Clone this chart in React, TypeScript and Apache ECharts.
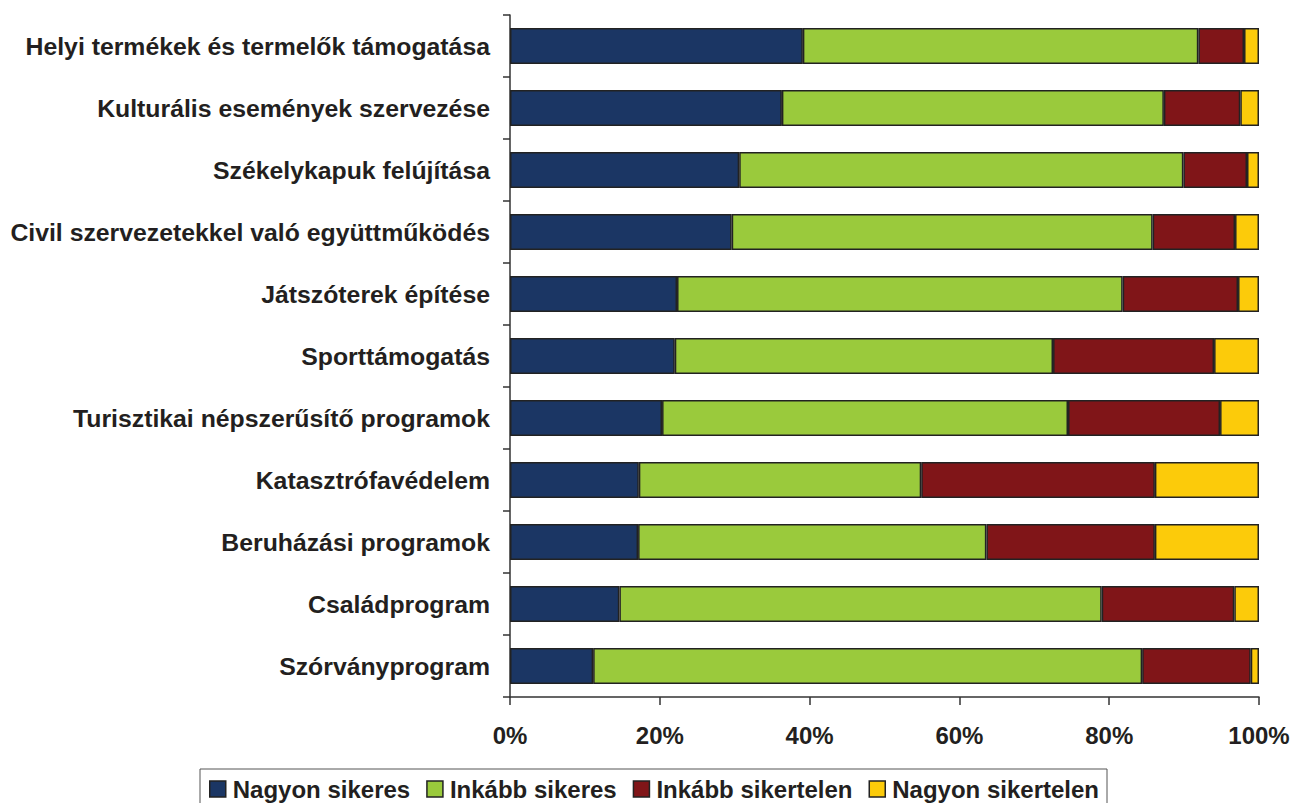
import React, { useEffect, useRef } from "react";
import * as echarts from "echarts";

const categories = [
  "Helyi termékek és termelők támogatása",
  "Kulturális események szervezése",
  "Székelykapuk felújítása",
  "Civil szervezetekkel való együttműködés",
  "Játszóterek építése",
  "Sporttámogatás",
  "Turisztikai népszerűsítő programok",
  "Katasztrófavédelem",
  "Beruházási programok",
  "Családprogram",
  "Szórványprogram",
];

const seriesNames = ["Nagyon sikeres", "Inkább sikeres", "Inkább sikertelen", "Nagyon sikertelen"];

const nagyonSikeres = [39.1, 36.3, 30.6, 29.6, 22.3, 22.0, 20.3, 17.2, 17.1, 14.6, 11.1];
const inkabbSikeres = [52.8, 51.0, 59.3, 56.2, 59.5, 50.5, 54.2, 37.7, 46.5, 64.4, 73.3];
const inkabbSikertelen = [6.1, 10.2, 8.5, 11.0, 15.4, 21.5, 20.3, 31.2, 22.5, 17.7, 14.5];
const nagyonSikertelen = [2.0, 2.5, 1.6, 3.2, 2.8, 6.0, 5.2, 13.9, 13.9, 3.3, 1.1];

const xTicks = [0, 20, 40, 60, 80, 100];

const colors = ["#1b3664", "#9aca3c", "#801518", "#fccb0a"];

export default function App() {
  const ref = useRef<HTMLDivElement>(null);
  useEffect(() => {
    if (!ref.current) return;
    const chart = echarts.init(ref.current, null, { renderer: "svg" });
    const values = [nagyonSikeres, inkabbSikeres, inkabbSikertelen, nagyonSikertelen];
    const font = "Liberation Sans, Arial, sans-serif";
    chart.setOption({
      animation: false,
      color: colors,
      grid: { left: 510, right: 34, top: 15, bottom: 106, containLabel: false },
      legend: {
        data: seriesNames,
        left: 200,
        top: 769,
        orient: "horizontal",
        borderColor: "#555",
        borderWidth: 1,
        padding: [8, 8, 8, 9],
        itemGap: 16,
        itemWidth: 16,
        itemHeight: 16,
        icon: "rect",
        itemStyle: { borderColor: "#222", borderWidth: 1.5 },
        textStyle: { fontFamily: font, fontWeight: "bold", fontSize: 24, color: "#231f20", padding: [0, 0, 0, 2] },
      },
      xAxis: {
        type: "value",
        min: xTicks[0],
        max: xTicks[xTicks.length - 1],
        interval: 20,
        axisLine: { show: true, lineStyle: { color: "#333", width: 1.5 } },
        axisTick: { show: true, length: 8, lineStyle: { color: "#333", width: 1.5 } },
        splitLine: { show: false },
        axisLabel: {
          formatter: "{value}%",
          margin: 26,
          fontFamily: font,
          fontWeight: "bold",
          fontSize: 24,
          color: "#231f20",
        },
      },
      yAxis: {
        type: "category",
        inverse: true,
        data: categories,
        axisLine: { show: true, lineStyle: { color: "#333", width: 1.5 } },
        axisTick: { show: true, length: 7, lineStyle: { color: "#333", width: 1.5 } },
        axisLabel: {
          margin: 20,
          fontFamily: font,
          fontWeight: "bold",
          fontSize: 24.8,
          color: "#231f20",
        },
      },
      series: seriesNames.map((name, i) => ({
        name,
        type: "bar",
        stack: "total",
        barWidth: "58%",
        data: values[i],
        itemStyle: { color: colors[i], borderColor: "#222", borderWidth: 1.5 },
        emphasis: { disabled: true },
      })),
    });
    return () => chart.dispose();
  }, []);
  return <div ref={ref} style={{ position: "absolute", left: 0, top: 0, width: 1293, height: 803 }} />;
}
